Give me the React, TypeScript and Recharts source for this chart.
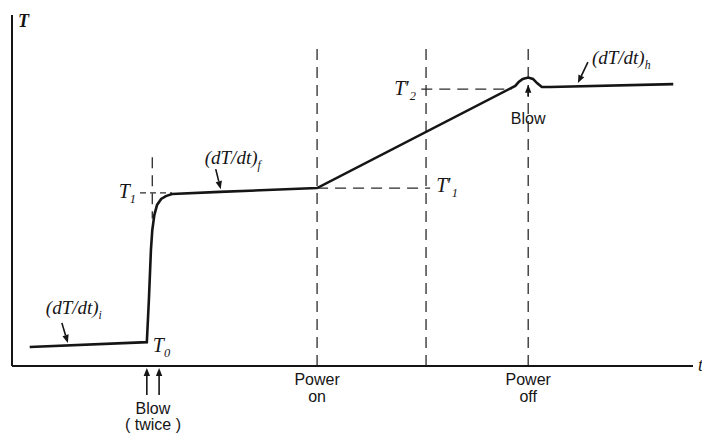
import { LineChart, Line, XAxis, YAxis, ReferenceLine, ReferenceDot } from 'recharts';

// temperature trace (time in arbitrary units, T in arbitrary units)
const timeS = [2.6, 19.8, 20.1, 20.4, 20.6, 20.9, 21.3, 21.9, 22.6, 23.5, 30.5, 44.8, 73.9, 74.4, 75.0, 75.8, 76.5, 77.1, 77.8, 79.0, 97.1];
const tempT = [5.4, 6.8, 18.8, 33.0, 38.7, 43.0, 45.9, 47.6, 48.4, 49.0, 49.6, 50.7, 79.8, 80.9, 81.8, 82.2, 81.8, 80.6, 79.5, 79.5, 80.3];

const blowTimes = [19.8, 21.6];
const powerOn = 44.8;
const midMark = 60.8;
const powerOff = 75.8;

const T0 = 6.8;
const T1 = 49.3;
const T1p = 50.7;
const T2p = 78.9;
const dashTop = 92;

const curve = timeS.map((t, i) => ({ t, T: tempT[i] }));

const INK = '#151515';
const DASH = '#2a2a2a';
const SERIF = '"Liberation Serif", "DejaVu Serif", serif';
const SANS = '"Liberation Sans", Arial, sans-serif';

function Arrow({ x1, y1, x2, y2 }: { x1: number; y1: number; x2: number; y2: number }) {
    const a = Math.atan2(y2 - y1, x2 - x1);
    const L = 8, W = 3.2;
    const bx = x2 - L * Math.cos(a), by = y2 - L * Math.sin(a);
    const pts = `${x2},${y2} ${bx + W * Math.sin(a)},${by - W * Math.cos(a)} ${bx - W * Math.sin(a)},${by + W * Math.cos(a)}`;
    return (
        <g>
            <line x1={x1} y1={y1} x2={bx} y2={by} stroke={INK} strokeWidth={1.6} />
            <polygon points={pts} fill={INK} />
        </g>
    );
}

function MathText({ x, y, base, sub, prime, anchor = 'start', size = 20 }: any) {
    return (
        <text x={x} y={y} textAnchor={anchor} fontFamily={SERIF} fontStyle="italic" fontSize={size} fill={INK}>
            {base}
            {prime ? <tspan fontStyle="normal">′</tspan> : null}
            {sub ? <tspan dy={5} fontSize={size * 0.62}>{sub}</tspan> : null}
        </text>
    );
}

function SansText({ x, y, children }: any) {
    return (
        <text x={x} y={y} textAnchor="middle" fontFamily={SANS} fontSize={16} fill={INK}>{children}</text>
    );
}

// label helper: draws relative to the dot's pixel position
const at = (draw: (x: number, y: number) => any) => (p: any) => {
    const vb = p.viewBox || {};
    return <g>{draw(vb.x, vb.y)}</g>;
};

const dashProps = { stroke: DASH, strokeWidth: 1.3, strokeDasharray: '11 7', ifOverflow: 'visible' as const };

export default function App() {
    return (
        <div style={{ position: 'absolute', left: 0, top: 0, background: '#fff' }}>
            <LineChart width={702} height={434} data={curve} margin={{ top: 15, right: 9, bottom: 58, left: 2 }}>
                <XAxis type="number" dataKey="t" domain={[0, 100]} tick={false} tickLine={false} height={10}
                    axisLine={{ stroke: INK, strokeWidth: 2 }} />
                <YAxis type="number" domain={[0, 100]} tick={false} tickLine={false} width={10}
                    axisLine={{ stroke: INK, strokeWidth: 2 }} />

                {/* dashed guides */}
                <ReferenceLine segment={[{ x: 20.6, y: 59.5 }, { x: 20.6, y: 42 }]} {...dashProps} />
                <ReferenceLine segment={[{ x: powerOn, y: 0 }, { x: powerOn, y: dashTop }]} {...dashProps} />
                <ReferenceLine segment={[{ x: midMark, y: 0 }, { x: midMark, y: dashTop }]} {...dashProps} />
                <ReferenceLine segment={[{ x: powerOff, y: 0 }, { x: powerOff, y: dashTop }]} {...dashProps} />
                <ReferenceLine segment={[{ x: 18.8, y: T1 }, { x: 23.5, y: T1 }]} {...dashProps} strokeDasharray="6 4" />
                <ReferenceLine segment={[{ x: powerOn, y: T1p }, { x: 61.4, y: T1p }]} {...dashProps} />
                <ReferenceLine segment={[{ x: 60.1, y: T2p }, { x: 73.4, y: T2p }]} {...dashProps} />

                <Line type="linear" dataKey="T" stroke={INK} strokeWidth={2.6} dot={false} isAnimationActive={false} />

                {/* axis names */}
                <ReferenceDot x={0} y={100} r={0} ifOverflow="visible" label={at((x, y) => (
                    <text x={x + 6} y={y + 12} fontFamily={SERIF} fontStyle="italic" fontWeight="bold" fontSize={18} fill={INK}>T</text>
                ))} />
                <ReferenceDot x={100} y={0} r={0} ifOverflow="visible" label={at((x, y) => (
                    <text x={x + 5} y={y + 5} fontFamily={SERIF} fontStyle="italic" fontSize={18} fill={INK}>t</text>
                ))} />

                {/* temperature marks */}
                <ReferenceDot x={blowTimes[0]} y={T0} r={0} ifOverflow="visible" label={at((x, y) => (
                    <MathText x={x + 6} y={y + 10} base="T" sub="0" />
                ))} />
                <ReferenceDot x={18.8} y={T1} r={0} ifOverflow="visible" label={at((x, y) => (
                    <MathText x={x - 4} y={y + 5} base="T" sub="1" anchor="end" />
                ))} />
                <ReferenceDot x={61.4} y={T1p} r={0} ifOverflow="visible" label={at((x, y) => (
                    <MathText x={x + 6} y={y + 4} base="T" sub="1" prime />
                ))} />
                <ReferenceDot x={midMark} y={T2p} r={0} ifOverflow="visible" label={at((x, y) => (
                    <MathText x={x - 10} y={y + 6} base="T" sub="2" prime anchor="end" />
                ))} />

                {/* slopes */}
                <ReferenceDot x={8.2} y={6.3} r={0} ifOverflow="visible" label={at((x, y) => (
                    <g>
                        <MathText x={x - 22} y={y - 30} base="(dT/dt)" sub="i" size={19} />
                        <Arrow x1={x - 6} y1={y - 21} x2={x} y2={y - 1} />
                    </g>
                ))} />
                <ReferenceDot x={30.5} y={50.1} r={0} ifOverflow="visible" label={at((x, y) => (
                    <g>
                        <MathText x={x - 15} y={y - 26} base="(dT/dt)" sub="f" size={19} />
                        <Arrow x1={x - 4} y1={y - 21} x2={x + 1} y2={y - 1} />
                    </g>
                ))} />
                <ReferenceDot x={83.1} y={80.6} r={0} ifOverflow="visible" label={at((x, y) => (
                    <g>
                        <MathText x={x + 14} y={y - 19} base="(dT/dt)" sub="h" size={19} />
                        <Arrow x1={x + 10} y1={y - 21} x2={x} y2={y} />
                    </g>
                ))} />

                {/* events */}
                {blowTimes.map((b) => (
                    <ReferenceDot key={b} x={b} y={0} r={0} ifOverflow="visible" label={at((x, y) => (
                        <Arrow x1={x} y1={y + 29} x2={x} y2={y + 2} />
                    ))} />
                ))}
                <ReferenceDot x={(blowTimes[0] + blowTimes[1]) / 2} y={0} r={0} ifOverflow="visible" label={at((x, y) => (
                    <g>
                        <SansText x={x} y={y + 48}>Blow</SansText>
                        <SansText x={x} y={y + 64}>( twice )</SansText>
                    </g>
                ))} />
                <ReferenceDot x={powerOn} y={0} r={0} ifOverflow="visible" label={at((x, y) => (
                    <g>
                        <SansText x={x} y={y + 19}>Power</SansText>
                        <SansText x={x} y={y + 36}>on</SansText>
                    </g>
                ))} />
                <ReferenceDot x={powerOff} y={0} r={0} ifOverflow="visible" label={at((x, y) => (
                    <g>
                        <SansText x={x} y={y + 19}>Power</SansText>
                        <SansText x={x} y={y + 36}>off</SansText>
                    </g>
                ))} />
                <ReferenceDot x={powerOff} y={80.1} r={0} ifOverflow="visible" label={at((x, y) => (
                    <g>
                        <Arrow x1={x} y1={y + 12} x2={x} y2={y} />
                        <SansText x={x} y={y + 39}>Blow</SansText>
                    </g>
                ))} />
            </LineChart>
        </div>
    );
}
